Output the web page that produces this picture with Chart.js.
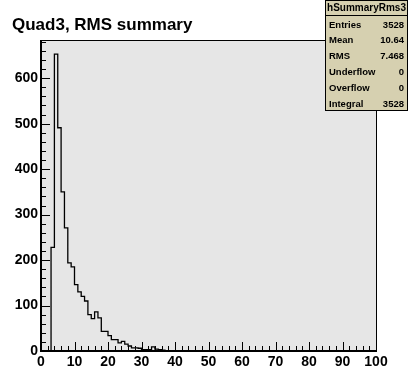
<!DOCTYPE html>
<html>
<head>
<meta charset="utf-8">
<script src="https://cdn.jsdelivr.net/npm/chart.js"></script>
<style>
  body { margin: 0; background: #ffffff; }
  #wrap { width: 418px; height: 390px; }
</style>
</head>
<body>
<div id="wrap"><canvas id="myChart" width="418" height="390"></canvas></div>
<script>
// histogram hSummaryRms3: 100 bins from 0 to 100
const xMin = 0;
const xMax = 100;
const binWidth = 1;
const counts = [
    0, 0, 0, 0, 228, 653, 491, 350, 271, 194,
    185, 146, 130, 120, 110, 80, 71, 86, 73, 43,
    43, 34, 25, 25, 18, 21, 15, 11, 7, 7,
    6, 3, 3, 3, 9, 4, 3, 2, 1, 1,
    0, 0, 0, 0, 0, 0, 0, 0, 0, 0,
    0, 0, 1, 0, 0, 0, 0, 0, 0, 0,
    0, 0, 0, 0, 0, 1, 0, 0, 0, 0,
    0, 0, 0, 0, 0, 0, 0, 0, 0, 0,
    0, 0, 0, 0, 0, 0, 0, 0, 0, 0,
    0, 0, 0, 0, 0, 0, 0, 0, 0, 0
];
const yMax = 684;
const xMajorTicks = [0, 10, 20, 30, 40, 50, 60, 70, 80, 90, 100];
const yMajorTicks = [0, 100, 200, 300, 400, 500, 600];

const titleText = 'Quad3, RMS summary';
const statsTitle = 'hSummaryRms3';
const statLabels = ['Entries', 'Mean', 'RMS', 'Underflow', 'Overflow', 'Integral'];
const statValues = ['3528', '10.64', '7.468', '0', '0', '3528'];

// step outline: one point per bin low edge, plus the closing edge
const points = counts.map((c, i) => ({ x: xMin + i * binWidth, y: c }));
points.push({ x: xMax, y: counts[counts.length - 1] });

const FONT = '"Liberation Sans", Arial, Helvetica, sans-serif';

const rootFrame = {
    id: 'rootFrame',
    beforeDatasetsDraw(chart) {
        const { ctx, chartArea: a } = chart;
        ctx.save();
        ctx.fillStyle = '#e6e6e6';
        ctx.fillRect(a.left, a.top, a.right - a.left, a.bottom - a.top);
        ctx.restore();
    },
    afterDatasetsDraw(chart) {
        const { ctx, chartArea: a } = chart;
        const xs = chart.scales.x;
        const ys = chart.scales.y;
        ctx.save();
        ctx.strokeStyle = '#000';

        // ticks inside frame
        ctx.lineWidth = 1;
        ctx.beginPath();
        for (let v = xMin; v <= xMax; v += 2) {
            const px = Math.round(xs.getPixelForValue(v)) + 0.5;
            const len = v % 10 === 0 ? 9 : 5;
            ctx.moveTo(px, a.bottom);
            ctx.lineTo(px, a.bottom - len);
        }
        for (let v = 0; v <= yMax; v += 20) {
            const py = Math.round(ys.getPixelForValue(v)) + 0.5;
            const len = v % 100 === 0 ? 9 : 5;
            ctx.moveTo(a.left, py);
            ctx.lineTo(a.left + len, py);
        }
        ctx.stroke();

        // frame
        ctx.strokeRect(a.left + 0.5, a.top + 0.5, a.right - a.left, a.bottom - a.top);
        ctx.lineWidth = 2;
        ctx.beginPath();
        ctx.moveTo(a.left, a.top);
        ctx.lineTo(a.left, a.bottom);
        ctx.lineTo(a.right + 1, a.bottom);
        ctx.stroke();
        ctx.restore();
    },
    afterDraw(chart) {
        const { ctx } = chart;
        ctx.save();
        // title
        ctx.fillStyle = '#000';
        ctx.font = 'bold 17px ' + FONT;
        ctx.textBaseline = 'alphabetic';
        ctx.textAlign = 'left';
        ctx.fillText(titleText, 12, 30);

        // stats box
        const bx = 325, by = 0, bw = 82, bh = 110;
        ctx.fillStyle = '#d6d0b0';
        ctx.fillRect(bx, by, bw, bh);
        ctx.strokeStyle = '#000';
        ctx.lineWidth = 1;
        ctx.strokeRect(bx + 0.5, by + 0.5, bw, bh);
        ctx.beginPath();
        ctx.moveTo(bx, 15.5);
        ctx.lineTo(bx + bw, 15.5);
        ctx.stroke();
        ctx.fillStyle = '#000';
        ctx.font = 'bold 10px ' + FONT;
        ctx.textBaseline = 'middle';
        ctx.textAlign = 'center';
        ctx.fillText(statsTitle, bx + bw / 2 + 0.5, 8.5);
        ctx.font = 'bold 9.5px ' + FONT;
        statLabels.forEach((lab, i) => {
            const y = 25 + i * 15.8;
            ctx.textAlign = 'left';
            ctx.fillText(lab, bx + 4, y);
            ctx.textAlign = 'right';
            ctx.fillText(statValues[i], bx + bw - 3, y);
        });
        ctx.restore();
    }
};

new Chart(document.getElementById('myChart').getContext('2d'), {
    type: 'line',
    data: {
        datasets: [{
            data: points,
            borderColor: '#000',
            borderWidth: 1.3,
            stepped: 'after',
            pointRadius: 0,
            fill: false
        }]
    },
    options: {
        responsive: false,
        devicePixelRatio: 1,
        animation: false,
        layout: { padding: { left: 0, top: 40, right: 42, bottom: 0 } },
        plugins: {
            legend: { display: false },
            tooltip: { enabled: false },
            title: { display: false }
        },
        scales: {
            x: {
                type: 'linear',
                min: xMin,
                max: xMax,
                grid: { display: false, drawTicks: false },
                border: { display: false },
                afterBuildTicks: s => { s.ticks = xMajorTicks.map(v => ({ value: v })); },
                afterFit: s => { s.height = 39; },
                ticks: {
                    color: '#000',
                    padding: 3,
                    maxRotation: 0,
                    autoSkip: false,
                    font: { family: FONT, size: 14, weight: 'bold' }
                }
            },
            y: {
                min: 0,
                max: yMax,
                grid: { display: false, drawTicks: false },
                border: { display: false },
                afterBuildTicks: s => { s.ticks = yMajorTicks.map(v => ({ value: v })); },
                afterFit: s => { s.width = 41; },
                ticks: {
                    color: '#000',
                    padding: 3,
                    autoSkip: false,
                    font: { family: FONT, size: 14, weight: 'bold' }
                }
            }
        }
    },
    plugins: [rootFrame]
});
</script>
</body>
</html>
